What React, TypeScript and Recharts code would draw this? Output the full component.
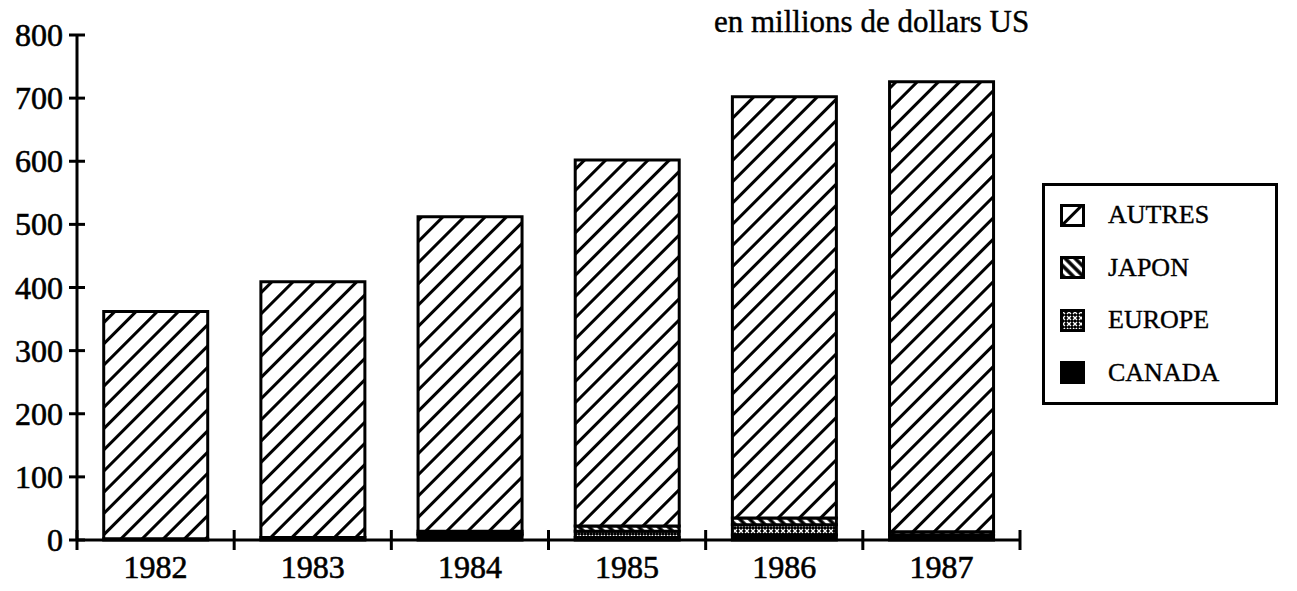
import { Bar, BarChart, XAxis, YAxis } from 'recharts'

const YEARS = ['1982', '1983', '1984', '1985', '1986', '1987']
const CANADA = [2, 4, 8, 4, 8, 8]
const EUROPE = [0, 0, 2, 10, 16, 0]
const JAPON = [0, 0, 4, 8, 11, 5]
const AUTRES = [360, 405, 498, 580, 667, 713]
const Y_TICKS = [0, 100, 200, 300, 400, 500, 600, 700, 800]

const SERIES = [
  { key: 'autres', name: 'AUTRES' },
  { key: 'japon', name: 'JAPON' },
  { key: 'europe', name: 'EUROPE' },
  { key: 'canada', name: 'CANADA' },
]

const data = YEARS.map((year, i) => ({
  year,
  canada: CANADA[i],
  europe: EUROPE[i],
  japon: JAPON[i],
  autres: AUTRES[i],
}))

const W = 1297
const H = 591
const PLOT_LEFT = 77
const PLOT_RIGHT = 1020
const BAND = (PLOT_RIGHT - PLOT_LEFT) / YEARS.length
const FONT = '"Liberation Serif", "Times New Roman", serif'

function Patterns({ prefix }: { prefix: string }) {
  return (
    <defs>
      <pattern
        id={`${prefix}-autres`}
        width="15"
        height="15"
        patternUnits="userSpaceOnUse"
        patternTransform="rotate(45)"
      >
        <rect width="15" height="15" fill="#fff" />
        <line x1="1.5" y1="0" x2="1.5" y2="15" stroke="#000" strokeWidth="3" />
      </pattern>
      <pattern
        id={`${prefix}-japon`}
        width="7"
        height="7"
        patternUnits="userSpaceOnUse"
        patternTransform="rotate(-45)"
      >
        <rect width="7" height="7" fill="#fff" />
        <line x1="2" y1="0" x2="2" y2="7" stroke="#000" strokeWidth="3.5" />
      </pattern>
      <pattern id={`${prefix}-europe`} width="6" height="6" patternUnits="userSpaceOnUse">
        <rect width="6" height="6" fill="#000" />
        <path d="M1 1 L5 5 M5 1 L1 5" stroke="#fff" strokeWidth="1.3" />
      </pattern>
    </defs>
  )
}

const fillFor = (prefix: string, key: string) =>
  key === 'canada' ? '#000' : `url(#${prefix}-${key})`

function YTick({ y, payload }: any) {
  return (
    <g>
      <line x1={PLOT_LEFT - 8} x2={PLOT_LEFT + 8} y1={y} y2={y} stroke="#000" strokeWidth={3} />
      <text
        x={PLOT_LEFT - 14}
        y={y}
        dy={11}
        textAnchor="end"
        fontSize={32}
        fontFamily={FONT}
        fill="#000"
        stroke="#000"
        strokeWidth={0.6}
      >
        {payload.value}
      </text>
    </g>
  )
}

function XTick({ x, y, payload, index }: any) {
  return (
    <g>
      <line x1={x - BAND / 2} x2={x - BAND / 2} y1={y - 10} y2={y + 10} stroke="#000" strokeWidth={3} />
      {index === YEARS.length - 1 && (
        <line x1={x + BAND / 2} x2={x + BAND / 2} y1={y - 10} y2={y + 10} stroke="#000" strokeWidth={3} />
      )}
      <text
        x={x}
        y={y + 38}
        textAnchor="middle"
        fontSize={32}
        fontFamily={FONT}
        fill="#000"
        stroke="#000"
        strokeWidth={0.6}
      >
        {payload.value}
      </text>
    </g>
  )
}

function LegendBox() {
  return (
    <div
      style={{
        position: 'absolute',
        left: 1042,
        top: 183,
        width: 236,
        height: 222,
        border: '3px solid #000',
        boxSizing: 'border-box',
        fontFamily: FONT,
        fontSize: 26,
        paddingTop: 3,
        color: '#000',
        WebkitTextStroke: '0.4px #000',
      }}
    >
      <svg width={0} height={0} style={{ position: 'absolute' }}>
        <Patterns prefix="lg" />
      </svg>
      {SERIES.map((s) => (
        <div key={s.key} style={{ display: 'flex', alignItems: 'center', height: 52.5 }}>
          <svg width={25} height={23} style={{ marginLeft: 15, marginRight: 23 }}>
            <rect x={1.5} y={1.5} width={22} height={20} fill={fillFor('lg', s.key)} stroke="#000" strokeWidth={3} />
          </svg>
          <span>{s.name}</span>
        </div>
      ))}
    </div>
  )
}

export default function App() {
  return (
    <div style={{ position: 'absolute', left: 0, top: 0, width: W, height: H, background: '#fff' }}>
      <div
        style={{
          position: 'absolute',
          left: 714,
          top: 4,
          fontFamily: FONT,
          fontSize: 31,
          whiteSpace: 'nowrap',
          color: '#000',
          WebkitTextStroke: '0.4px #000',
        }}
      >
        en millions de dollars US
      </div>
      <BarChart
        width={W}
        height={H}
        data={data}
        margin={{ top: 35, right: W - PLOT_RIGHT, left: PLOT_LEFT - 60, bottom: 21 }}
        barCategoryGap="17%"
      >
        <Patterns prefix="ch" />
        <XAxis
          dataKey="year"
          height={30}
          axisLine={{ stroke: '#000', strokeWidth: 3 }}
          tickLine={false}
          tickSize={0}
          tickMargin={0}
          tick={<XTick />}
          interval={0}
        />
        <YAxis
          width={60}
          domain={[0, 800]}
          ticks={Y_TICKS}
          axisLine={{ stroke: '#000', strokeWidth: 3 }}
          tickLine={false}
          tickSize={0}
          tickMargin={0}
          tick={<YTick />}
          interval={0}
        />
        {['canada', 'europe', 'japon', 'autres'].map((key) => (
          <Bar
            key={key}
            dataKey={key}
            stackId="a"
            fill={fillFor('ch', key)}
            stroke="#000"
            strokeWidth={3}
            isAnimationActive={false}
          />
        ))}
      </BarChart>
      <LegendBox />
    </div>
  )
}
